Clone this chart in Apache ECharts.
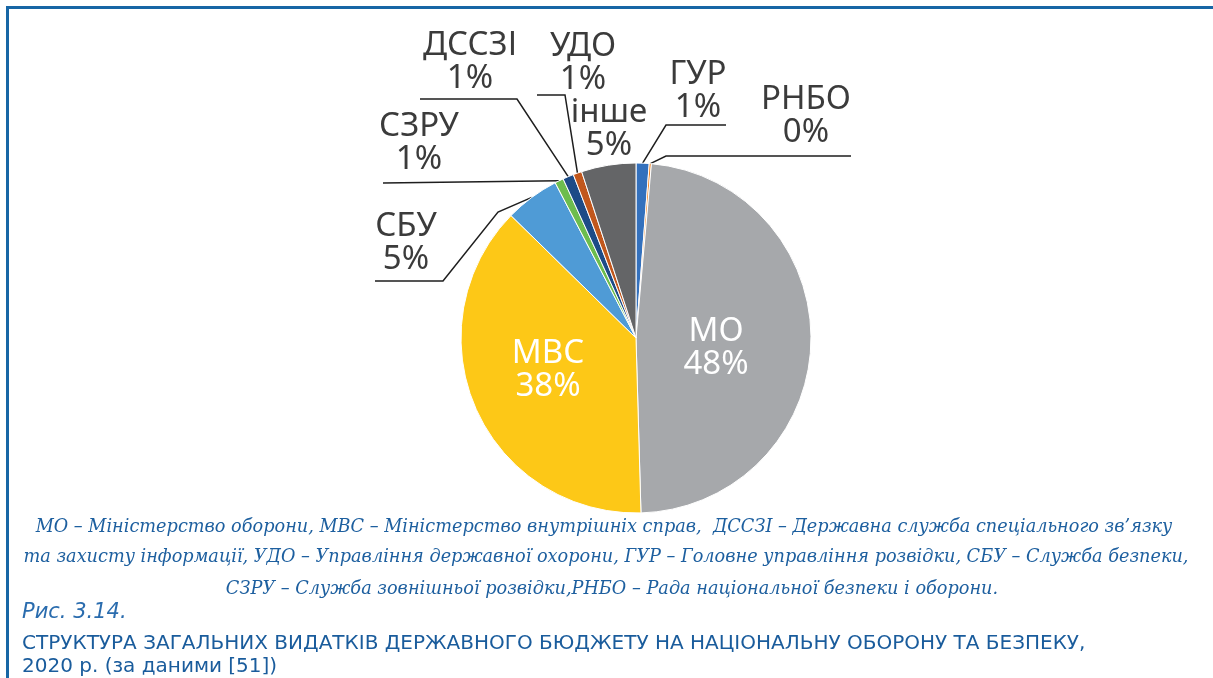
<!DOCTYPE html>
<html>
<head>
<meta charset="utf-8">
<script src="https://cdn.jsdelivr.net/npm/echarts@6/dist/echarts.min.js"></script>
<style>
html,body{margin:0;padding:0;background:#fff;}
#chart{width:1213px;height:678px;}
</style>
</head>
<body>
<div id="chart"></div>
<script>
// Data (clockwise from 12 o'clock)
const categories = ['ГУР', 'РНБО', 'МО', 'МВС', 'СБУ', 'СЗРУ', 'ДССЗІ', 'УДО', 'інше'];
const values = [1.2, 0.2, 47.9, 37.6, 5.0, 0.8, 1.0, 0.8, 5.0];
const colors = ['#3471bd', '#f5831f', '#a6a8ab', '#fdc817', '#4f9bd6', '#6dbd4e', '#1d4b87', '#c1571d', '#646567'];

const noteLines = [
  'МО – Міністерство оборони, МВС – Міністерство внутрішніх справ,  ДССЗІ – Державна служба спеціального зв’язку',
  'та захисту інформації, УДО – Управління державної охорони, ГУР – Головне управління розвідки, СБУ – Служба безпеки,',
  'СЗРУ – Служба зовнішньої розвідки,РНБО – Рада національної безпеки і оборони.'
];
const figNumber = 'Рис. 3.14.';
const titleLines = [
  'СТРУКТУРА ЗАГАЛЬНИХ ВИДАТКІВ ДЕРЖАВНОГО БЮДЖЕТУ НА НАЦІОНАЛЬНУ ОБОРОНУ ТА БЕЗПЕКУ,',
  '2020 р. (за даними [51])'
];

// Label placement (layout only)
const insideLabels = ['МО', 'МВС'];
const labelPlace = {
  'ГУР':   { x: 698, y: 91,  line: [[666, 125], [726, 125]] },
  'РНБО':  { x: 806, y: 116, line: [[666, 156], [851, 156]] },
  'МО':    { x: 716, y: 348 },
  'МВС':   { x: 548, y: 370 },
  'СБУ':   { x: 406, y: 243, line: [[498, 212], [443, 281], [375, 281]] },
  'СЗРУ':  { x: 419, y: 143, line: [[383, 183]] },
  'ДССЗІ': { x: 470, y: 62,  line: [[517, 99], [420, 99]] },
  'УДО':   { x: 583, y: 63,  line: [[565, 95], [537, 95]] },
  'інше':  { x: 609, y: 129 }
};

const pieData = categories.map((name, i) => {
  const inside = insideLabels.indexOf(name) >= 0;
  const item = { name: name, value: values[i], itemStyle: { color: colors[i] } };
  if (inside) {
    item.label = { position: 'inside', color: '#ffffff' };
    item.labelLine = { show: false };
  }
  if (name === 'інше') item.labelLine = { show: false };
  return item;
});

const chart = echarts.init(document.getElementById('chart'), null, { renderer: 'canvas' });

const textStyleNote = { fill: '#1d5f9f', font: 'italic 17.7px "DejaVu Serif"', textAlign: 'center', textVerticalAlign: 'middle' };

chart.setOption({
  backgroundColor: '#ffffff',
  animation: false,
  series: [{
    type: 'pie',
    center: [636, 338],
    radius: 175,
    startAngle: 90,
    clockwise: true,
    avoidLabelOverlap: false,
    percentPrecision: 0,
    itemStyle: { borderColor: '#ffffff', borderWidth: 1 },
    label: {
      show: true,
      position: 'outside',
      formatter: '{b}\n{d}%',
      fontFamily: 'Noto Sans',
      fontSize: 33,
      lineHeight: 33,
      color: '#3b3b3b',
      align: 'center'
    },
    labelLine: {
      show: true,
      length: 10,
      length2: 10,
      lineStyle: { color: '#1e1e1e', width: 1.5 }
    },
    labelLayout: function (params) {
      const name = categories[params.dataIndex];
      const p = labelPlace[name];
      if (!p) return {};
      const out = { x: p.x, y: p.y, align: 'center', verticalAlign: 'middle' };
      if (p.line && params.labelLinePoints) {
        const start = params.labelLinePoints[0];
        out.labelLinePoints = [start].concat(p.line);
      }
      return out;
    },
    data: pieData
  }],
  graphic: [
    { type: 'line', shape: { x1: 7.5, y1: 6, x2: 7.5, y2: 678 }, style: { stroke: '#1766a5', lineWidth: 3 } },
    { type: 'line', shape: { x1: 6, y1: 7.5, x2: 1213, y2: 7.5 }, style: { stroke: '#1766a5', lineWidth: 3 } },
    { type: 'text', x: 604, y: 527, style: Object.assign({ text: noteLines[0] }, textStyleNote) },
    { type: 'text', x: 606, y: 557, style: Object.assign({ text: noteLines[1] }, textStyleNote) },
    { type: 'text', x: 612, y: 589, style: Object.assign({ text: noteLines[2] }, textStyleNote) },
    { type: 'text', x: 22, y: 613, style: { text: figNumber, fill: '#2a6cae', font: 'italic 21px "DejaVu Sans"', textVerticalAlign: 'middle' } },
    { type: 'text', x: 22, y: 644, style: { text: titleLines[0], fill: '#1a5c9c', font: '20px "DejaVu Sans"', textVerticalAlign: 'middle' } },
    { type: 'text', x: 22, y: 667, style: { text: titleLines[1], fill: '#1a5c9c', font: '20px "DejaVu Sans"', textVerticalAlign: 'middle' } }
  ]
});
</script>
</body>
</html>
